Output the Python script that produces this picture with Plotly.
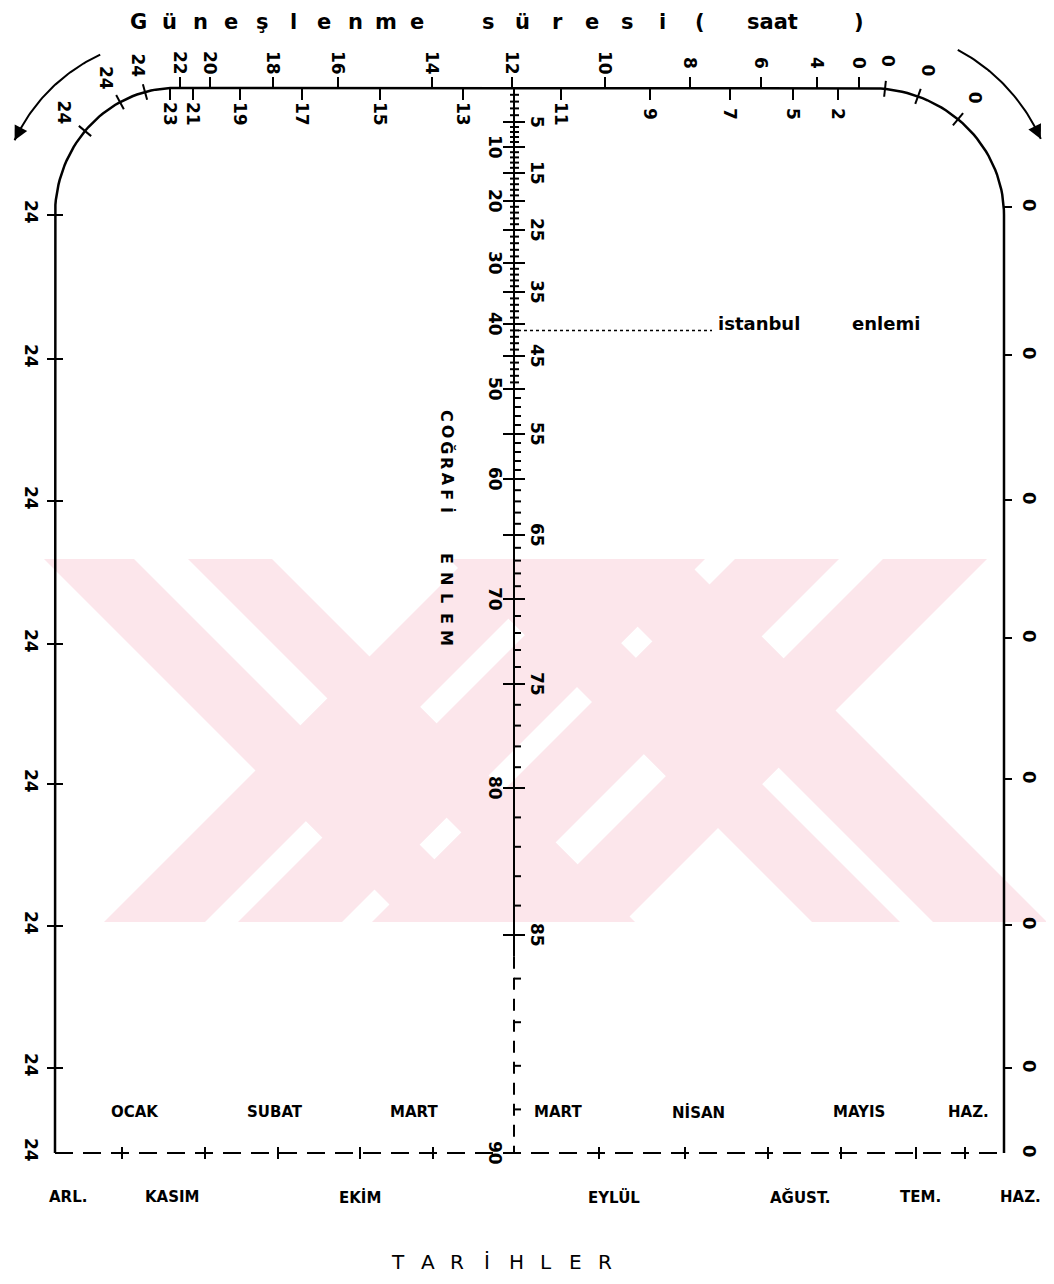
import numpy as np
import plotly.graph_objects as go

W, H = 1054, 1284
PAD = 8  # sayfa govdesinin varsayilan kenar boslugu

# ---------------- veriler ----------------
# ust olcek: gunes suresi (saat), cizginin ustundeki etiketler
ust_saat = [24, 24, 24, 22, 20, 18, 16, 14, 12, 10, 8, 6, 4, 0, 0, 0, 0]
ust_x = [85, 120, 145, 180, 210, 273, 338, 432, 512, 605, 690, 761, 817, 859, 885, 918, 958]
# cizginin altindaki etiketler
alt_saat = [23, 21, 19, 17, 15, 13, 11, 9, 7, 5, 2]
alt_x = [170, 193, 240, 302, 380, 463, 561, 650, 730, 793, 838]

# yan olcekler
sol_deger = [24, 24, 24, 24, 24, 24, 24, 24]
sol_y = [215, 359, 501, 644, 784, 926, 1068, 1153]
sag_deger = [0, 0, 0, 0, 0, 0, 0, 0]
sag_y = [207, 355, 500, 638, 779, 925, 1068, 1153]

# cografi enlem olcegi
enlem = [0, 5, 10, 15, 20, 25, 30, 35, 40, 45, 50, 55, 60, 65, 70, 75, 80, 85, 90]
enlem_y = [88, 122, 147, 173, 201, 230, 263, 292, 324, 356, 389, 434, 479, 535, 599, 684, 788, 935, 1153]
istanbul = 41

# tarih ekseni
tarih_tik_x = [122, 205, 278, 360, 433, 599, 685, 768, 841, 916, 965]
ust_aylar = ["OCAK", "SUBAT", "MART", "MART", "NİSAN", "MAYIS", "HAZ."]
ust_ay_x = [135, 275, 414, 558, 698, 859, 968]
alt_aylar = ["ARL.", "KASIM", "EKİM", "EYLÜL", "AĞUST.", "TEM.", "HAZ."]
alt_ay_x = [68, 172, 360, 614, 800, 920, 1020]

# ---------------- cerceve geometrisi ----------------
TOP, LEFT, RIGHT, BOTTOM = 88, 55, 1004, 1153
CLX, CRX, CY = 175, 870, 215
RXL, RXR, RY = CLX - LEFT, RIGHT - CRX, CY - TOP
CX_CENTER = 514

FONT = "DejaVu Sans"


def cerceve(x):
    # cerceve ust kenarindaki nokta ve disa dogru normal
    if x < CLX:
        u = (x - CLX) / RXL
        v = -np.sqrt(max(0.0, 1 - u * u))
        y = CY + RY * v
        nx, ny = u / RXL, v / RY
    elif x > CRX:
        u = (x - CRX) / RXR
        v = -np.sqrt(max(0.0, 1 - u * u))
        y = CY + RY * v
        nx, ny = u / RXR, v / RY
    else:
        return x, TOP, 0.0, -1.0
    n = np.hypot(nx, ny)
    return x, y, nx / n, ny / n


def y_enlem(e):
    return float(np.interp(e, enlem, enlem_y))


lx, ly = [], []  # kalin cizgiler
tx, ty = [], []  # tikler


def seg(xs, ys, a, b):
    xs += [a[0], b[0], None]
    ys += [a[1], b[1], None]


# cerceve yolu
fx, fy = [LEFT, LEFT], [BOTTOM, CY]
for t in np.linspace(np.pi, 1.5 * np.pi, 40):
    fx.append(CLX + RXL * np.cos(t))
    fy.append(CY + RY * np.sin(t))
for t in np.linspace(1.5 * np.pi, 2 * np.pi, 40):
    fx.append(CRX + RXR * np.cos(t))
    fy.append(CY + RY * np.sin(t))
fx += [RIGHT, RIGHT]
fy += [CY, BOTTOM]

fig = go.Figure()

# filigran: 45 derecelik seritler
pembe = "#fce6eb"
y0, y1 = 559, 922
kay = y1 - y0
ters_serit = [(44, 134), (188, 272), (449, 537), (570, 684)]   # "\" ust uclari
duz_serit = [(104, 205), (238, 342), (372, 476), (520, 624)]    # "/" alt uclari


def kirp(poly, ymin, ymax):
    # yatay iki dogruya gore cokgen kirpma
    for lim, alt_mi in ((ymin, True), (ymax, False)):
        out = []
        for i in range(len(poly)):
            p, q = poly[i], poly[(i + 1) % len(poly)]
            ip = p[1] >= lim if alt_mi else p[1] <= lim
            iq = q[1] >= lim if alt_mi else q[1] <= lim
            if ip:
                out.append(p)
            if ip != iq:
                t = (lim - p[1]) / (q[1] - p[1])
                out.append((p[0] + t * (q[0] - p[0]), lim))
        poly = out
    return poly


bantlar = []
for a, b in ters_serit:
    bantlar.append([(a, y0), (b, y0), (min(b + kay, 1050), y1), (a + kay, y1)])
for a, b in duz_serit:
    bantlar.append([(a + kay, y0), (b + kay, y0), (b, y1), (a, y1)])
# kesisim bolgeleri dolu
kollar_t = [(ters_serit[0][0] - y0, ters_serit[1][1] - y0), (ters_serit[2][0] - y0, ters_serit[3][1] - y0)]
kollar_d = [(duz_serit[0][0] + y1, duz_serit[1][1] + y1), (duz_serit[2][0] + y1, duz_serit[3][1] + y1)]
for a0, a1 in kollar_t:
    for b0, b1 in kollar_d:
        k = [((a + b) / 2, (b - a) / 2) for a, b in ((a0, b0), (a1, b0), (a1, b1), (a0, b1))]
        k = kirp(k, y0, y1)
        if len(k) >= 3:
            bantlar.append(k)
for b in bantlar:
    p = "M " + " L ".join(f"{px:.1f},{py:.1f}" for px, py in b) + " Z"
    fig.add_shape(type="path", path=p, xref="x", yref="y", fillcolor=pembe,
                  line=dict(width=0), layer="below")

ann = []


def yazi(x, y, t, size=16, angle=0, bold=True, xa="center", ya="middle"):
    ann.append(dict(x=x, y=y, text=f"<b>{t}</b>" if bold else t, showarrow=False,
                    textangle=angle, xanchor=xa, yanchor=ya,
                    font=dict(family=FONT, size=size, color="black")))


# ust olcek tikleri ve etiketleri
for h, x in zip(ust_saat, ust_x):
    px, py, nx, ny = cerceve(x)
    if ny < -0.999:
        seg(tx, ty, (px, py), (px, py - 11))
        yazi(px, py - 25, h, size=17, angle=90)
    else:
        seg(tx, ty, (px - 8 * nx, py - 8 * ny), (px + 8 * nx, py + 8 * ny))
        yazi(px + 28 * nx, py + 28 * ny, h, size=17, angle=90)
for h, x in zip(alt_saat, alt_x):
    px, py, nx, ny = cerceve(x)
    seg(tx, ty, (px, py), (px, py + 12))
    yazi(px, py + 26, h, size=17, angle=90)

# yan olcekler
for v, y in zip(sol_deger, sol_y):
    if y < BOTTOM:
        seg(tx, ty, (LEFT - 8, y), (LEFT + 8, y))
    yazi(LEFT - 24, y - 3, v, size=17, angle=90)
for v, y in zip(sag_deger, sag_y):
    if y < BOTTOM:
        seg(tx, ty, (RIGHT, y), (RIGHT + 8, y))
    yazi(RIGHT + 26, y - 2, v, size=18, angle=90)

# enlem olcegi
seg(lx, ly, (CX_CENTER, TOP), (CX_CENTER, y_enlem(85.5)))
for d in range(1, 90):
    y = y_enlem(d)
    if d % 5 == 0:
        seg(tx, ty, (CX_CENTER - 11, y), (CX_CENTER + 11, y))
    elif d < 50:
        seg(tx, ty, (CX_CENTER - 4, y), (CX_CENTER + 5, y))
    else:
        seg(tx, ty, (CX_CENTER, y), (CX_CENTER + 7, y))
for e, y in zip(enlem, enlem_y):
    if e == 0:
        continue
    if e % 10 == 0:
        yazi(CX_CENTER - 19, y, e, size=17, angle=90)
    else:
        yazi(CX_CENTER + 23, y, e, size=17, angle=90)

# istanbul enlemi
yi = y_enlem(istanbul)
fig.add_trace(go.Scatter(x=[CX_CENTER + 4, 712], y=[yi, yi], mode="lines",
                         line=dict(color="black", width=1.5, dash="dot"),
                         hoverinfo="skip", showlegend=False))
yazi(716, yi - 7, "istanbul", size=18, xa="left")
yazi(850, yi - 7, "enlemi", size=18, xa="left")

# tarih ekseni
for x in tarih_tik_x:
    seg(tx, ty, (x, BOTTOM - 6), (x, BOTTOM + 6))
for t, x in zip(ust_aylar, ust_ay_x):
    yazi(x, 1112, t, size=15)
for t, x in zip(alt_aylar, alt_ay_x):
    yazi(x, 1197, t, size=15)

fig.add_trace(go.Scatter(x=fx, y=fy, mode="lines", line=dict(color="black", width=2.5),
                         hoverinfo="skip", showlegend=False))
fig.add_trace(go.Scatter(x=lx, y=ly, mode="lines", line=dict(color="black", width=2),
                         hoverinfo="skip", showlegend=False))
fig.add_trace(go.Scatter(x=tx, y=ty, mode="lines", line=dict(color="black", width=2),
                         hoverinfo="skip", showlegend=False))
# kesikli kisimlar
fig.add_trace(go.Scatter(x=[CX_CENTER, CX_CENTER], y=[y_enlem(85.5), BOTTOM], mode="lines",
                         line=dict(color="black", width=2, dash="12px,9px"),
                         hoverinfo="skip", showlegend=False))
fig.add_trace(go.Scatter(x=[LEFT, RIGHT], y=[BOTTOM, BOTTOM], mode="lines",
                         line=dict(color="black", width=2, dash="18px,10px"),
                         hoverinfo="skip", showlegend=False))

# kose oklari
for cx, r, a0, a1 in [(CLX, 177, 245, 205), (CRX, 187, 298, 336)]:
    t = np.radians(np.linspace(a0, a1, 40))
    fig.add_trace(go.Scatter(x=cx + r * np.cos(t), y=CY + r * np.sin(t), mode="lines",
                             line=dict(color="black", width=2), hoverinfo="skip",
                             showlegend=False))
    tb = np.radians(a1 + (4 if a1 < a0 else -4))
    te = np.radians(a1)
    ann.append(dict(x=cx + r * np.cos(te), y=CY + r * np.sin(te), ax=cx + r * np.cos(tb),
                    ay=CY + r * np.sin(tb), axref="x", ayref="y", xref="x", yref="y",
                    showarrow=True, arrowhead=2, arrowsize=1.4, arrowwidth=2,
                    arrowcolor="black", text=""))


# basliklar
def aralikli(metin, x0, x1, y, size, bold=False):
    for c, x in zip(metin, np.linspace(x0, x1, len(metin))):
        yazi(x, y, c, size=size, bold=bold)


aralikli("Güneşlenme", 138, 417, 22, 21, bold=True)
aralikli("süresi", 488, 662, 22, 21, bold=True)
yazi(700, 22, "(", size=21)
yazi(772, 22, "saat", size=21)
yazi(859, 22, ")", size=21)
aralikli("TARİHLER", 398, 605, 1262, 20)
for c, y in zip("COĞRAFİ", np.linspace(416, 510, 7)):
    yazi(447, y, c, size=16, angle=90)
for c, y in zip("ENLEM", np.linspace(558, 638, 5)):
    yazi(447, y, c, size=16, angle=90)

fig.update_layout(
    width=W - 2 * PAD, height=H - 2 * PAD, margin=dict(l=0, r=0, t=0, b=0),
    paper_bgcolor="white", plot_bgcolor="white", showlegend=False,
    xaxis=dict(range=[PAD, W - PAD], visible=False, fixedrange=True),
    yaxis=dict(range=[H - PAD, PAD], visible=False, fixedrange=True),
    annotations=ann,
)

fig.write_html("out.html")
